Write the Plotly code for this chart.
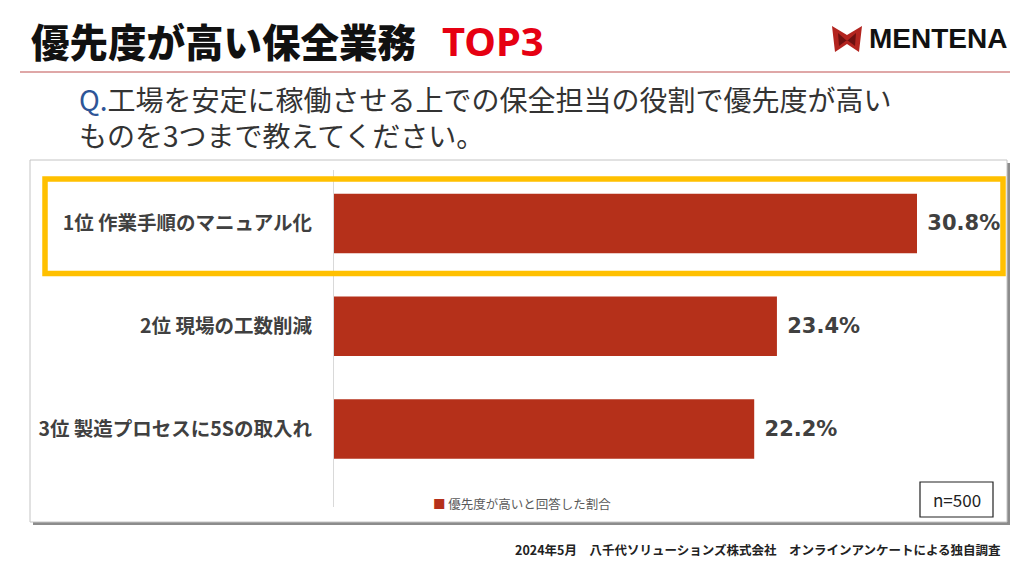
import plotly.graph_objects as go

# ---- data ----
categories = ["1位 作業手順のマニュアル化", "2位 現場の工数削減", "3位 製造プロセスに5Sの取入れ"]
values = [30.8, 23.4, 22.2]
series_name = "優先度が高いと回答した割合"
title_main = "優先度が高い保全業務"
title_top = "TOP3"
question_q = "Q."
question_line1 = "工場を安定に稼働させる上での保全担当の役割で優先度が高い"
question_line2 = "ものを3つまで教えてください。"
sample_note = "n=500"
footer_text = "2024年5月\u3000八千代ソリューションズ株式会社\u3000オンラインアンケートによる独自調査"
logo_text = "MENTENA"

# page body has an 8px default margin: the figure occupies 8..1024 x 8..576
OFF = 8
W, H = 1024 - OFF, 576 - OFF
JP = "Noto Sans CJK JP"
BAR = "#B5301A"


def px(x):
    return (x - OFF) / W


def py(y):
    return 1 - (y - OFF) / H


fig = go.Figure()
fig.add_trace(go.Bar(
    y=categories, x=values, orientation="h", name=series_name,
    marker=dict(color=BAR, line=dict(width=0)),
    width=0.58,
    texttemplate=" %{x:.1f}%", textposition="outside", cliponaxis=False,
    textfont=dict(family="DejaVu Sans", size=21, color="#404040", weight="bold"),
    showlegend=False, hoverinfo="skip",
))

# category band: centers at 223.5 / 326 / 429 px
top_px, bot_px = 172.1, 480.4
fig.update_layout(
    width=W, height=H, margin=dict(l=0, r=0, t=0, b=0),
    paper_bgcolor="white", plot_bgcolor="rgba(0,0,0,0)",
    xaxis=dict(domain=[px(334), px(996.5)], range=[0, 35], visible=False, fixedrange=True),
    yaxis=dict(domain=[py(bot_px), py(top_px)], autorange="reversed",
               showline=False, showgrid=False, zeroline=False, ticks="",
               ticklabelstandoff=21,
               tickfont=dict(family=JP, size=19.5, color="#404040", weight="bold")),
    bargap=0.42,
)

shapes = []
# panel shadow and panel
shapes.append(dict(type="rect", xref="paper", yref="paper", layer="below",
                   x0=px(33), x1=px(1010), y0=py(525), y1=py(163),
                   fillcolor="#8c8c8c", line=dict(width=0)))
shapes.append(dict(type="rect", xref="paper", yref="paper", layer="below",
                   x0=px(30), x1=px(1007), y0=py(522), y1=py(160),
                   fillcolor="white", line=dict(color="#c4c4c4", width=1)))
# axis line
shapes.append(dict(type="line", xref="paper", yref="paper", layer="below",
                   x0=px(333.5), x1=px(333.5), y0=py(170), y1=py(507),
                   line=dict(color="#d9d9d9", width=1)))
# highlight box
shapes.append(dict(type="rect", xref="paper", yref="paper", layer="above",
                   x0=px(45), x1=px(1003), y0=py(273.5), y1=py(179),
                   fillcolor="rgba(0,0,0,0)", line=dict(color="#FFC000", width=5.5)))
# title underline
shapes.append(dict(type="line", xref="paper", yref="paper",
                   x0=px(20), x1=px(1010), y0=py(72), y1=py(72),
                   line=dict(color="#d58a8a", width=1.5)))
# n=500 box
shapes.append(dict(type="rect", xref="paper", yref="paper",
                   x0=px(920), x1=px(993), y0=py(517), y1=py(482),
                   fillcolor="white", line=dict(color="#222222", width=1.2)))


def path(pts):
    return "M" + " L".join(f"{px(a):.5f},{py(b):.5f}" for a, b in pts) + " Z"


# logo icon
shapes.append(dict(type="path", xref="paper", yref="paper",
                   path=path([(832, 26), (847, 35), (862, 26), (859, 52), (847, 44), (835, 52)]),
                   fillcolor="#B3241F", line=dict(width=0)))
shapes.append(dict(type="path", xref="paper", yref="paper",
                   path=path([(838, 33), (847, 41), (856, 33), (855, 46), (847, 40), (839, 46)]),
                   fillcolor="#6e1010", line=dict(width=0)))
fig.update_layout(shapes=shapes)

ann = []
ann.append(dict(text=title_main, x=px(29), y=py(40), xref="paper", yref="paper",
                xanchor="left", yanchor="middle", showarrow=False,
                font=dict(family=JP, size=38.5, color="#111111", weight=900)))
ann.append(dict(text=title_top, x=px(440), y=py(40), xref="paper", yref="paper",
                xanchor="left", yanchor="middle", showarrow=False,
                font=dict(family="Noto Sans", size=40, color="#E60012", weight="bold")))
ann.append(dict(text=logo_text, x=px(867), y=py(39), xref="paper", yref="paper",
                xanchor="left", yanchor="middle", showarrow=False,
                font=dict(family="Liberation Sans", size=28, color="#111111", weight="bold")))
ann.append(dict(text=f"<span style='color:#2E5597'>{question_q}</span>{question_line1}<br>{question_line2}",
                x=px(77), y=py(117), xref="paper", yref="paper",
                xanchor="left", yanchor="middle", align="left", showarrow=False,
                font=dict(family=JP, size=28, color="#333333")))
ann.append(dict(text=f"<span style='color:{BAR}'>■</span> {series_name}",
                x=px(431), y=py(504), xref="paper", yref="paper",
                xanchor="left", yanchor="middle", showarrow=False,
                font=dict(family=JP, size=12.5, color="#595959")))
ann.append(dict(text=sample_note, x=px(956.5), y=py(499.5), xref="paper", yref="paper",
                xanchor="center", yanchor="middle", showarrow=False,
                font=dict(family=JP, size=17, color="#222222")))
ann.append(dict(text=footer_text, x=px(1003), y=py(549), xref="paper", yref="paper",
                xanchor="right", yanchor="middle", showarrow=False,
                font=dict(family=JP, size=12.5, color="#222222", weight="bold")))
fig.update_layout(annotations=ann)

fig.write_html("out.html")
